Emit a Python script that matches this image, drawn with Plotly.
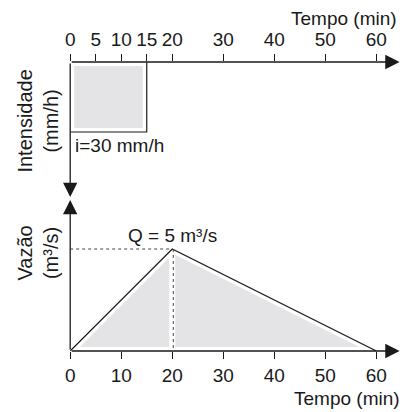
import plotly.graph_objects as go

# ---- data ----
rain_time = [0, 15]            # min
rain_intensity = [30, 30]      # mm/h
hydro_time = [0, 20, 60]       # min
hydro_flow = [0, 5, 0]         # m3/s
peak_time = 20
peak_flow = 5
top_ticks = [0, 5, 10, 15, 20, 30, 40, 50, 60]
bottom_ticks = [0, 10, 20, 30, 40, 50, 60]

W, H = 406, 412
FONT = "Arial, Liberation Sans, sans-serif"
FS = 19
INK = "#1a1a1a"
GRAY = "#e4e4e6"

def px(x):
    return x / W

def py(y):
    return 1 - y / H

x0p, x60p = 66, 376
ppm = (x60p - x0p) / 60.0
x_end_px = 400
xmax = (x_end_px - x0p) / ppm

# top panel geometry
top_axis_px = 62
top_unit = (132 - 62) / 30.0
top_bottom_px = 198
top_ymax = (top_bottom_px - top_axis_px) / top_unit

# bottom panel geometry
bot_axis_px = 351
bot_unit = (351 - 249) / 5.0
bot_top_px = 198
bot_ymax = (bot_axis_px - bot_top_px) / bot_unit

fig = go.Figure()

# --- top: rainfall block ---
rx = [rain_time[0], rain_time[1], rain_time[1], rain_time[0], rain_time[0]]
ry = [0, 0, rain_intensity[1], rain_intensity[0], 0]
fig.add_trace(go.Scatter(x=rx, y=ry, mode="lines", fill="toself",
                         fillcolor=GRAY, line=dict(color="white", width=8),
                         xaxis="x", yaxis="y", hoverinfo="skip", showlegend=False))
fig.add_trace(go.Scatter(x=[rain_time[0], rain_time[1], rain_time[1]],
                         y=[rain_intensity[0], rain_intensity[1], 0],
                         mode="lines", line=dict(color=INK, width=1.2),
                         xaxis="x", yaxis="y", hoverinfo="skip", showlegend=False))

# --- bottom: hydrograph ---
fig.add_trace(go.Scatter(x=hydro_time + [hydro_time[0]], y=hydro_flow + [hydro_flow[0]],
                         mode="lines", fill="toself", fillcolor=GRAY,
                         line=dict(color="white", width=8),
                         xaxis="x2", yaxis="y2", hoverinfo="skip", showlegend=False))
fig.add_trace(go.Scatter(x=[peak_time, peak_time], y=[peak_flow, 0], mode="lines",
                         line=dict(color="white", width=6),
                         xaxis="x2", yaxis="y2", hoverinfo="skip", showlegend=False))
fig.add_trace(go.Scatter(x=hydro_time, y=hydro_flow, mode="lines",
                         line=dict(color=INK, width=1.2),
                         xaxis="x2", yaxis="y2", hoverinfo="skip", showlegend=False))
fig.add_trace(go.Scatter(x=[0, peak_time], y=[peak_flow, peak_flow], mode="lines",
                         line=dict(color="#444", width=1, dash="dot"),
                         xaxis="x2", yaxis="y2", hoverinfo="skip", showlegend=False))
fig.add_trace(go.Scatter(x=[peak_time + 0.2, peak_time + 0.2], y=[peak_flow, 0], mode="lines",
                         line=dict(color="#444", width=1, dash="dot"),
                         xaxis="x2", yaxis="y2", hoverinfo="skip", showlegend=False))

axis_common = dict(showgrid=False, zeroline=False, showline=False,
                   ticks="outside", ticklen=7, tickwidth=1, tickcolor=INK,
                   tickfont=dict(family=FONT, size=FS, color=INK), fixedrange=True)

fig.update_layout(
    width=W, height=H,
    margin=dict(l=0, r=0, t=0, b=0),
    paper_bgcolor="white", plot_bgcolor="rgba(0,0,0,0)",
    showlegend=False,
    xaxis=dict(domain=[px(x0p), px(x_end_px)], range=[0, xmax], anchor="y",
               side="top", tickmode="array", tickvals=top_ticks, **axis_common),
    yaxis=dict(domain=[py(top_bottom_px), py(top_axis_px)], range=[top_ymax, 0],
               anchor="x", showticklabels=False, showgrid=False, zeroline=False,
               showline=False, ticks="", fixedrange=True),
    xaxis2=dict(domain=[px(x0p), px(x_end_px)], range=[0, xmax], anchor="y2",
                tickmode="array", tickvals=bottom_ticks, **axis_common),
    yaxis2=dict(domain=[py(bot_axis_px), py(bot_top_px)], range=[0, bot_ymax],
                anchor="x2", showticklabels=False, showgrid=False, zeroline=False,
                showline=False, ticks="", fixedrange=True),
)

def arrow(xref, yref, x, y, ax, ay):
    fig.add_annotation(x=x, y=y, ax=ax, ay=ay, xref=xref, yref=yref,
                       axref=xref, ayref=yref, text="", showarrow=True,
                       arrowhead=2, arrowsize=2.2, arrowwidth=1.3,
                       arrowcolor=INK, standoff=0, startstandoff=0)

# axis arrows
arrow("x", "y", xmax - 0.1, 0, 0, 0)
arrow("x", "y", 0, top_ymax - 0.4, 0, 0)
arrow("x2", "y2", xmax - 0.1, 0, 0, 0)
arrow("x2", "y2", 0, bot_ymax - 0.1, 0, 0)

txt = dict(family=FONT, size=FS, color=INK)
ttl = dict(family=FONT, size=20, color=INK)

fig.add_annotation(x=px(399), y=py(19), xref="paper", yref="paper", text="Tempo (min)",
                   showarrow=False, xanchor="right", yanchor="middle", font=txt)
fig.add_annotation(x=px(402), y=py(398), xref="paper", yref="paper", text="Tempo (min)",
                   showarrow=False, xanchor="right", yanchor="middle", font=txt)
fig.add_annotation(x=0.6, y=rain_intensity[0], xref="x", yref="y", text="i=30 mm/h",
                   showarrow=False, xanchor="left", yanchor="top", yshift=-1, font=txt)
fig.add_annotation(x=peak_time, y=peak_flow, xref="x2", yref="y2", text="Q = 5 m³/s",
                   showarrow=False, xanchor="center", yanchor="bottom", yshift=1, font=txt)
fig.add_annotation(x=px(33), y=py(121), xref="paper", yref="paper",
                   text="Intensidade<br>(mm/h)", textangle=-90, showarrow=False,
                   xanchor="center", yanchor="middle", font=ttl)
fig.add_annotation(x=px(33), y=py(253), xref="paper", yref="paper",
                   text="Vazão<br>(m³/s)", textangle=-90, showarrow=False,
                   xanchor="center", yanchor="middle", font=ttl)

fig.write_html("out.html", config={"displayModeBar": False, "staticPlot": True},
               post_script="document.body.style.margin='0px';document.body.style.overflow='hidden';")
